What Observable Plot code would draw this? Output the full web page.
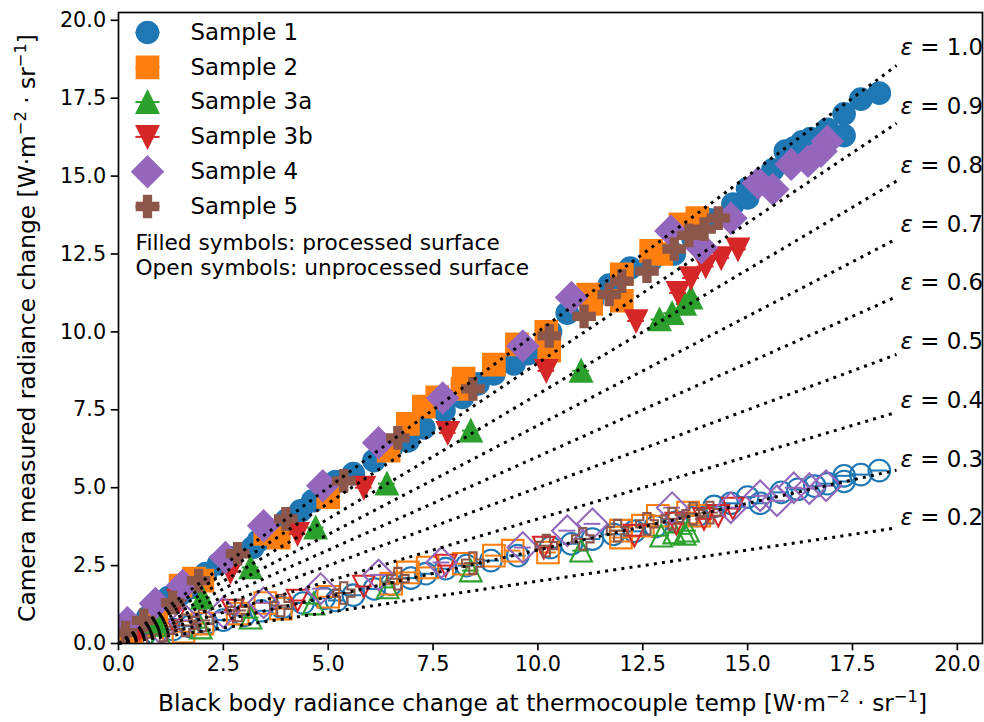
<!DOCTYPE html>
<html>
<head>
<meta charset="utf-8">
<script src="https://cdn.jsdelivr.net/npm/d3@7"></script>
<script src="https://cdn.jsdelivr.net/npm/@observablehq/plot@0.6"></script>
<style>
  html, body { margin: 0; padding: 0; background: #fff; }
</style>
</head>
<body>
<div id="chart"></div>
<script>
// ---------------- DATA ----------------
const sampleNames = ["Sample 1", "Sample 2", "Sample 3a", "Sample 3b", "Sample 4", "Sample 5"];
const sampleColors = ["#1f77b4", "#ff7f0e", "#2ca02c", "#d62728", "#9467bd", "#8c564b"];

// processed surface (filled symbols): [black body radiance, camera radiance]
const s1Processed = [[0.17,0.42],[0.45,0.55],[0.7,0.85],[0.95,1.28],[1.19,1.47],[1.5,1.6],[1.75,1.8],[2.08,2.24],[2.39,2.56],[2.7,2.75],[3.2,3.08],[3.34,3.3],[3.7,3.6],[4.0,3.95],[4.34,4.26],[4.63,4.58],[5.18,5.2],[5.6,5.45],[6.09,5.87],[6.5,6.25],[6.9,6.5],[7.28,6.92],[7.76,7.47],[8.2,7.9],[8.57,8.33],[8.95,8.65],[9.43,8.97],[9.76,9.3],[10.3,10.0],[10.7,10.6],[11.3,11.0],[11.7,11.5],[12.2,12.05],[12.7,12.3],[13.25,12.5],[13.7,13.0],[14.1,13.6],[14.65,14.1],[15.0,14.3],[15.0,14.6],[15.6,15.2],[15.9,15.8],[16.1,15.9],[16.3,16.1],[16.5,16.2],[16.9,16.5],[17.3,16.3],[17.3,17.0],[17.7,17.47],[18.14,17.66]];
const s2Processed = [[0.3,0.3],[0.9,0.9],[1.48,1.86],[1.8,2.08],[2.0,2.02],[3.5,3.52],[3.82,3.4],[5.0,4.7],[6.44,6.19],[6.9,7.05],[7.28,7.6],[7.6,7.9],[8.2,8.17],[8.23,8.5],[8.95,8.95],[9.5,9.6],[10.2,10.0],[10.27,9.4],[11.2,11.2],[11.27,10.9],[12.0,11.85],[12.0,11.0],[12.7,12.6],[12.94,12.5],[13.4,13.45],[13.8,13.65]];
const s3aProcessed = [[0.9,0.7],[2.0,1.47],[3.15,2.44],[4.7,3.72],[6.4,5.13],[8.4,6.83],[11.03,8.75],[12.9,10.4],[13.2,10.6],[13.5,10.9],[13.65,11.1]];
const s3bProcessed = [[0.5,0.45],[1.43,1.38],[2.67,2.3],[4.27,3.52],[5.85,5.0],[7.85,6.76],[10.2,8.75],[12.34,10.35],[13.34,11.25],[13.65,11.73],[14.0,12.1],[14.37,12.37],[14.77,12.65]];
const s4Processed = [[0.21,0.67],[0.88,1.28],[1.53,1.86],[2.55,2.76],[3.46,3.78],[4.87,5.06],[6.2,6.44],[7.73,7.88],[9.64,9.55],[10.8,11.1],[13.17,13.24],[13.9,12.7],[14.6,13.65],[15.25,14.78],[15.6,14.58],[16.04,15.38],[16.44,15.48],[16.75,15.8],[16.9,16.12]];
const s5Processed = [[0.17,0.35],[0.6,0.74],[1.29,1.31],[1.91,2.02],[2.84,2.88],[3.99,4.0],[5.37,5.22],[6.66,6.6],[8.45,8.17],[10.27,9.87],[11.1,10.5],[11.7,11.2],[12.0,11.63],[12.6,11.95],[13.25,12.66],[13.6,13.1],[13.96,13.3],[14.3,13.65]];

// unprocessed surface (open symbols)
const s1Unprocessed = [[0.3,0.15],[0.6,0.25],[0.9,0.3],[1.3,0.45],[1.7,0.55],[2.1,0.65],[2.5,0.75],[3.0,0.9],[3.4,1.05],[3.9,1.15],[4.4,1.3],[4.9,1.45],[5.2,1.38],[5.6,1.55],[6.1,1.75],[6.5,1.9],[6.97,2.1],[7.33,2.24],[7.8,2.4],[8.3,2.5],[8.88,2.66],[9.52,2.82],[10.3,3.08],[10.8,3.2],[11.3,3.35],[11.8,3.5],[12.3,3.6],[12.8,3.75],[13.3,3.9],[13.8,4.1],[14.2,4.4],[14.6,4.5],[15.0,4.7],[15.3,4.5],[15.8,4.85],[16.2,4.95],[16.6,5.05],[16.9,5.13],[17.3,5.2],[17.3,5.38],[17.7,5.42],[18.14,5.55]];
const s2Unprocessed = [[0.3,0.1],[0.8,0.25],[1.55,0.38],[2.0,0.64],[2.84,0.96],[3.5,1.3],[3.87,1.12],[5.0,1.5],[6.5,1.92],[6.9,2.28],[7.37,2.44],[8.23,2.56],[8.95,2.82],[9.4,2.98],[10.24,2.92],[11.98,3.62],[11.98,3.4],[12.5,3.78],[12.86,4.1],[13.58,4.2],[13.85,4.1]];
const s3aUnprocessed = [[0.4,0.08],[1.0,0.25],[1.96,0.51],[3.15,0.83],[4.65,1.28],[6.42,1.8],[8.4,2.34],[11.03,2.98],[12.94,3.46],[13.25,3.56],[13.5,3.52],[13.58,3.62]];
const s3bUnprocessed = [[0.5,0.2],[1.3,0.74],[2.72,1.06],[4.27,1.38],[5.85,1.83],[7.8,2.5],[10.14,3.08],[12.3,3.46],[13.3,3.85],[13.96,4.0],[14.3,4.1],[14.65,4.33]];
const s4Unprocessed = [[0.3,0.2],[1.0,0.48],[1.6,0.74],[2.5,1.0],[3.46,1.31],[4.82,1.76],[6.2,2.2],[7.7,2.6],[9.64,3.08],[10.7,3.62],[11.3,3.84],[13.2,4.36],[14.6,4.36],[15.3,4.74],[15.7,4.58],[16.1,5.0],[16.47,4.97],[16.87,5.06]];
const s5Unprocessed = [[0.2,0.15],[0.6,0.3],[1.07,0.42],[1.6,0.58],[2.0,0.74],[2.86,1.06],[3.87,1.22],[5.37,1.62],[6.66,2.08],[8.45,2.58],[10.2,3.14],[11.07,3.36],[11.9,3.62],[12.6,3.84],[13.2,4.0],[13.7,4.17],[14.1,4.2]];

const xErr = 0.2;                      // horizontal error bar half-width
const emissivities = [1.0, 0.9, 0.8, 0.7, 0.6, 0.5, 0.4, 0.3, 0.2];
const lineEnd = 18.55;                  // black body radiance where reference lines end
const labelReach = 18.85;               // black body radiance used to place the ε labels
const xTicks = [0, 2.5, 5, 7.5, 10, 12.5, 15, 17.5, 20];
const yTicks = [0, 2.5, 5, 7.5, 10, 12.5, 15, 17.5, 20];
const xLabel = "Black body radiance change at thermocouple temp [W·m⁻² · sr⁻¹]";
const yLabel = "Camera measured radiance change [W·m⁻² · sr⁻¹]";
const noteLines = ["Filled symbols: processed surface", "Open symbols: unprocessed surface"];

// ---------------- SYMBOLS (matplotlib-like) ----------------
const rad = s => Math.sqrt(s / Math.PI);
const symCircle = {draw(c, s) { const r = rad(s); c.moveTo(r, 0); c.arc(0, 0, r, 0, 2 * Math.PI); c.closePath(); }};
const symSquare = {draw(c, s) { const r = rad(s); c.rect(-r, -r, 2 * r, 2 * r); }};
const symTriUp = {draw(c, s) { const r = rad(s); c.moveTo(0, -r); c.lineTo(r, r); c.lineTo(-r, r); c.closePath(); }};
const symTriDown = {draw(c, s) { const r = rad(s); c.moveTo(0, r); c.lineTo(r, -r); c.lineTo(-r, -r); c.closePath(); }};
const symDiamond = {draw(c, s) { const r = rad(s) * Math.SQRT2; c.moveTo(0, -r); c.lineTo(r, 0); c.lineTo(0, r); c.lineTo(-r, 0); c.closePath(); }};
const symPlus = {draw(c, s) {
  const r = rad(s), a = r / 3;
  c.moveTo(-a, -r); c.lineTo(a, -r); c.lineTo(a, -a); c.lineTo(r, -a); c.lineTo(r, a); c.lineTo(a, a);
  c.lineTo(a, r); c.lineTo(-a, r); c.lineTo(-a, a); c.lineTo(-r, a); c.lineTo(-r, -a); c.lineTo(-a, -a); c.closePath();
}};
const symHLine = {draw(c, s) { const r = rad(s); c.moveTo(-r * 1.12, 0); c.lineTo(r * 1.12, 0); }};
const symbols = [symCircle, symSquare, symTriUp, symTriDown, symDiamond, symPlus];

const processed = [s1Processed, s2Processed, s3aProcessed, s3bProcessed, s4Processed, s5Processed];
const unprocessed = [s1Unprocessed, s2Unprocessed, s3aUnprocessed, s3bUnprocessed, s4Unprocessed, s5Unprocessed];

const R = 10.8, EW = 2.08, FS = 20.8, LFS = 22.9, AFS = 23.3, NFS = 21.7;

const marks = [];
// open symbols (unprocessed)
unprocessed.forEach((pts, i) => {
  marks.push(Plot.ruleY(pts, {y: d => d[1], x1: d => d[0] - xErr, x2: d => d[0] + xErr, stroke: sampleColors[i], strokeWidth: 2, clip: true}));
  marks.push(Plot.dot(pts, {x: d => d[0], y: d => d[1], r: R, symbol: symbols[i], fill: "none", stroke: sampleColors[i], strokeWidth: EW, clip: true}));
});
// filled symbols (processed)
processed.forEach((pts, i) => {
  marks.push(Plot.ruleY(pts, {y: d => d[1], x1: d => d[0] - xErr, x2: d => d[0] + xErr, stroke: sampleColors[i], strokeWidth: 2, clip: true}));
  marks.push(Plot.dot(pts, {x: d => d[0], y: d => d[1], r: R, symbol: symbols[i], fill: sampleColors[i], stroke: sampleColors[i], strokeWidth: EW, clip: true}));
});
// emissivity reference lines
const refLines = emissivities.flatMap(e => [{e, x: 0, y: 0}, {e, x: lineEnd, y: lineEnd * e}]);
marks.push(Plot.line(refLines, {x: "x", y: "y", z: "e", stroke: "black", strokeWidth: 3, strokeDasharray: "3,5.2", strokeLinecap: "butt"}));
marks.push(Plot.text(emissivities, {x: () => lineEnd, y: e => e * labelReach, text: e => `ε = ${e.toFixed(1)}`, textAnchor: "start", lineAnchor: "middle", dx: 4, dy: -8, fontSize: LFS, fill: "black"}));

// legend
sampleNames.forEach((name, i) => {
  const dy = 20 + i * 34.8;
  marks.push(Plot.dot([name], {frameAnchor: "top-left", dx: 29, dy, r: R, symbol: symHLine, fill: "none", stroke: sampleColors[i], strokeWidth: 2}));
  marks.push(Plot.dot([name], {frameAnchor: "top-left", dx: 29, dy, r: R, symbol: symbols[i], fill: sampleColors[i], stroke: sampleColors[i], strokeWidth: EW}));
  marks.push(Plot.text([name], {frameAnchor: "top-left", dx: 72, dy, text: d => d, textAnchor: "start", lineAnchor: "middle", fontSize: LFS, fill: "black"}));
});
noteLines.forEach((t, i) => {
  marks.push(Plot.text([t], {frameAnchor: "top-left", dx: 17, dy: 231 + i * 25, text: d => d, textAnchor: "start", lineAnchor: "middle", fontSize: NFS, fill: "black"}));
});

// axes, labels, frame
marks.push(Plot.axisX({ticks: xTicks, tickFormat: d => d.toFixed(1), tickSize: 7.3, tickPadding: 5, strokeWidth: 1.67, fontSize: FS, label: null}));
marks.push(Plot.axisY({ticks: yTicks, tickFormat: d => d.toFixed(1), tickSize: 7.3, tickPadding: 5, strokeWidth: 1.67, fontSize: FS, label: null}));
marks.push(Plot.text([xLabel], {frameAnchor: "bottom", text: d => d, dx: -8, dy: 60, lineAnchor: "middle", textAnchor: "middle", fontSize: AFS, fill: "black"}));
marks.push(Plot.text([yLabel], {frameAnchor: "left", text: d => d, dx: -91, rotate: -90, lineAnchor: "middle", textAnchor: "middle", fontSize: AFS, fill: "black"}));
marks.push(Plot.frame({stroke: "black", strokeWidth: 1.67}));

const chart = Plot.plot({
  width: 984,
  height: 722,
  marginLeft: 118,
  marginRight: 2,
  marginTop: 12,
  marginBottom: 79,
  x: {domain: [0, 20.6]},
  y: {domain: [0, 20.25]},
  style: {fontFamily: "DejaVu Sans", fontSize: "20.8px", background: "white", color: "black"},
  marks
});
document.getElementById("chart").appendChild(chart);

// ---- typeset superscripts and italic epsilon like matplotlib mathtext ----
const NS = "http://www.w3.org/2000/svg";
chart.querySelectorAll("text, tspan").forEach(el => {
  if (el.children.length) return;
  const s = el.textContent;
  if (s.includes("⁻")) {
    el.textContent = "";
    let shifted = false;
    s.split(/(⁻[²¹])/).forEach(part => {
      if (!part) return;
      const ts = document.createElementNS(NS, "tspan");
      if (part === "⁻²" || part === "⁻¹") {
        ts.textContent = "−" + (part === "⁻²" ? "2" : "1");
        ts.setAttribute("font-size", "70%");
        ts.setAttribute("dy", "-9");
        shifted = true;
      } else {
        ts.textContent = part;
        if (shifted) { ts.setAttribute("dy", "9"); shifted = false; }
      }
      el.appendChild(ts);
    });
  } else if (s.startsWith("ε")) {
    el.textContent = "";
    const a = document.createElementNS(NS, "tspan");
    a.textContent = "ε";
    a.setAttribute("font-style", "italic");
    const b = document.createElementNS(NS, "tspan");
    b.textContent = s.slice(1);
    el.appendChild(a); el.appendChild(b);
  }
});
</script>
</body>
</html>
